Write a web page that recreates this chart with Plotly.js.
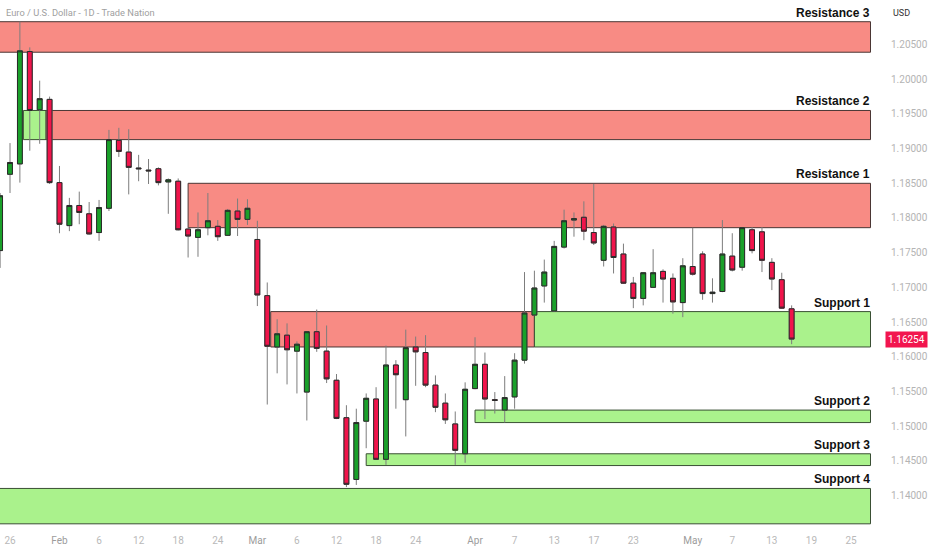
<!DOCTYPE html>
<html>
<head>
<meta charset="utf-8">
<script src="https://cdn.plot.ly/plotly-3.0.1.min.js"></script>
<style>html,body{margin:0;padding:0;background:#fff;}#chart{width:932px;height:550px;}</style>
</head>
<body>
<div id="chart"></div>
<script>
// ---- data (EUR/USD daily) ----
const dates = [
 '2026-01-23','2026-01-26','2026-01-27','2026-01-28','2026-01-29','2026-01-30',
 '2026-02-02','2026-02-03','2026-02-04','2026-02-05','2026-02-06',
 '2026-02-09','2026-02-10','2026-02-11','2026-02-12','2026-02-13',
 '2026-02-16','2026-02-17','2026-02-18','2026-02-19','2026-02-20',
 '2026-02-23','2026-02-24','2026-02-25','2026-02-26','2026-02-27',
 '2026-03-02','2026-03-03','2026-03-04','2026-03-05','2026-03-06',
 '2026-03-09','2026-03-10','2026-03-11','2026-03-12','2026-03-13',
 '2026-03-16','2026-03-17','2026-03-18','2026-03-19','2026-03-20',
 '2026-03-23','2026-03-24','2026-03-25','2026-03-26','2026-03-27',
 '2026-03-30','2026-03-31','2026-04-01','2026-04-02','2026-04-03',
 '2026-04-06','2026-04-07','2026-04-08','2026-04-09','2026-04-10',
 '2026-04-13','2026-04-14','2026-04-15','2026-04-16','2026-04-17',
 '2026-04-20','2026-04-21','2026-04-22','2026-04-23','2026-04-24',
 '2026-04-27','2026-04-28','2026-04-29','2026-04-30','2026-05-01',
 '2026-05-04','2026-05-05','2026-05-06','2026-05-07','2026-05-08',
 '2026-05-11','2026-05-12','2026-05-13','2026-05-14','2026-05-15'
];
const open = [
 1.1753,1.1863,1.1878,1.2040,1.1956,1.1971,
 1.1851,1.1789,1.1818,1.1806,1.1779,
 1.1814,1.1912,1.1895,1.1872,1.1869,
 1.1871,1.1852,1.1853,1.1784,1.1772,
 1.1786,1.1788,1.1775,1.1810,1.1798,
 1.1769,1.1688,1.1614,1.1631,1.1608,
 1.1549,1.1636,1.1608,1.1566,1.1512,
 1.1423,1.1507,1.1539,1.1452,1.1588,
 1.1538,1.1614,1.1606,1.1559,1.1533,
 1.1503,1.1460,1.1554,1.1589,1.1538,
 1.1523,1.1542,1.1595,1.1660,1.1702,
 1.1666,1.1758,1.1797,1.1801,1.1779,
 1.1739,1.1787,1.1748,1.1706,1.1684,
 1.1700,1.1723,1.1713,1.1678,1.1730,
 1.1748,1.1691,1.1694,1.1745,1.1729,
 1.1783,1.1780,1.1736,1.1711,1.1669
];
const high = [
 1.1836,1.1908,1.2083,1.2046,1.1998,1.1975,
 1.1875,1.1829,1.1838,1.1823,1.1826,
 1.1927,1.1930,1.1928,1.1891,1.1885,
 1.1873,1.1857,1.1857,1.1786,1.1808,
 1.1836,1.1797,1.1813,1.1828,1.1827,
 1.1796,1.1707,1.1654,1.1648,1.1622,
 1.1637,1.1668,1.1645,1.1575,1.1530,
 1.1525,1.1547,1.1556,1.1616,1.1595,
 1.1639,1.1629,1.1631,1.1573,1.1547,
 1.1521,1.1563,1.1628,1.1606,1.1549,
 1.1572,1.1605,1.1722,1.1724,1.1740,
 1.1767,1.1812,1.1808,1.1824,1.1849,
 1.1790,1.1792,1.1763,1.1715,1.1722,
 1.1755,1.1726,1.1720,1.1742,1.1786,
 1.1752,1.1713,1.1797,1.1778,1.1787,
 1.1787,1.1787,1.1742,1.1721,1.1674
];
const low = [
 1.1728,1.1836,1.1851,1.1897,1.1907,1.1849,
 1.1778,1.1781,1.1791,1.1776,1.1767,
 1.1810,1.1888,1.1834,1.1853,1.1849,
 1.1847,1.1806,1.1782,1.1743,1.1744,
 1.1775,1.1767,1.1774,1.1774,1.1790,
 1.1673,1.1531,1.1576,1.1560,1.1547,
 1.1508,1.1607,1.1562,1.1510,1.1412,
 1.1415,1.1468,1.1451,1.1444,1.1525,
 1.1485,1.1558,1.1556,1.1520,1.1503,
 1.1444,1.1447,1.1553,1.1510,1.1518,
 1.1505,1.1525,1.1590,1.1659,1.1678,
 1.1665,1.1756,1.1773,1.1768,1.1761,
 1.1730,1.1720,1.1705,1.1670,1.1674,
 1.1699,1.1678,1.1662,1.1657,1.1717,
 1.1682,1.1678,1.1693,1.1723,1.1724,
 1.1749,1.1722,1.1696,1.1669,1.1618
];
const close = [
 1.1832,1.1880,1.2041,1.1955,1.1972,1.1851,
 1.1791,1.1818,1.1808,1.1777,1.1815,
 1.1913,1.1896,1.1873,1.1871,1.1868,
 1.1851,1.1855,1.1783,1.1774,1.1783,
 1.1796,1.1773,1.1811,1.1798,1.1814,
 1.1689,1.1615,1.1633,1.1610,1.1618,
 1.1636,1.1612,1.1568,1.1511,1.1416,
 1.1505,1.1540,1.1452,1.1588,1.1574,
 1.1613,1.1607,1.1559,1.1527,1.1509,
 1.1465,1.1553,1.1589,1.1539,1.1537,
 1.1541,1.1595,1.1663,1.1699,1.1722,
 1.1759,1.1796,1.1799,1.1781,1.1764,
 1.1788,1.1743,1.1706,1.1684,1.1721,
 1.1721,1.1712,1.1679,1.1731,1.1719,
 1.1691,1.1693,1.1748,1.1725,1.1786,
 1.1753,1.1739,1.1712,1.1670,1.16254
];
const lastPrice = 1.16254;

// axis labels
const tickDates = ['2026-01-26','2026-02-02','2026-02-06','2026-02-12','2026-02-18','2026-02-24',
 '2026-03-02','2026-03-06','2026-03-12','2026-03-18','2026-03-24','2026-04-01','2026-04-07',
 '2026-04-13','2026-04-17','2026-04-23','2026-05-01','2026-05-07','2026-05-13','2026-05-19','2026-05-25'];
const tickLabels = ['26','Feb','6','12','18','24','Mar','6','12','18','24','Apr','7','13','17','23','May','7','13','19','25'];
const priceTicks = [1.14,1.145,1.15,1.155,1.16,1.165,1.17,1.175,1.18,1.185,1.19,1.195,1.20,1.205];

// zones
const zoneLabels = ['Resistance 3','Resistance 2','Resistance 1','Support 1','Support 2','Support 3','Support 4'];
const zoneTop    = [1.2083,1.1955,1.1850,1.1665,1.1523,1.1460,1.1410];
const zoneBottom = [1.2039,1.1913,1.1786,1.1614,1.1505,1.1443,1.1359];
// zone segments: which zone, colour kind, start / end date (null = chart edge)
const segZone = [0,1,1,2,3,3,4,5,6];
const segKind = ['res','sup','res','res','res','sup','sup','sup','sup'];
const segFrom = [null,'2026-01-27','2026-01-30','2026-02-19','2026-03-03','2026-04-09','2026-04-01','2026-03-17',null];
const segFromEdge = [0,1,-1,0,1,0,0,0,0];
const segTo = [null,'2026-01-30',null,null,'2026-04-09',null,null,null,null];
const segToEdge = [0,-1,0,0,0,0,0,0,0];

// ---- helpers ----
function tradingIndex(s){
  const base = Date.UTC(2026,0,26);
  const t = Date.parse(s+'T00:00:00Z');
  const days = Math.round((t-base)/864e5);
  const weeks = Math.floor(days/7);
  const rem = days - weeks*7;
  return weeks*5 + Math.min(rem,5);
}
const X = dates.map(tradingIndex);
const XMIN = -1.0107, XMAX = 87.02;
const HALF = 0.35;

const bodyHigh = open.map((o,i)=>Math.max(o,close[i]));
const bodyLow  = open.map((o,i)=>Math.min(o,close[i]));

const GREEN = '#1aa02a', RED = '#f0144b';

const wicks = {
  type:'candlestick', x:X, open:open, high:high, low:low, close:close,
  increasing:{line:{color:'#7d7d7d',width:1}, fillcolor:GREEN},
  decreasing:{line:{color:'#7d7d7d',width:1}, fillcolor:RED},
  whiskerwidth:0, hoverinfo:'skip', showlegend:false
};
const bodies = {
  type:'candlestick', x:X, open:open, high:bodyHigh, low:bodyLow, close:close,
  increasing:{line:{color:'#2a2a2a',width:1}, fillcolor:GREEN},
  decreasing:{line:{color:'#2a2a2a',width:1}, fillcolor:RED},
  whiskerwidth:0, hoverinfo:'skip', showlegend:false
};

const shapes = segZone.map((z,i)=>{
  const x0 = segFrom[i] ? tradingIndex(segFrom[i]) + segFromEdge[i]*HALF : XMIN-2;
  const x1 = segTo[i] ? tradingIndex(segTo[i]) + segToEdge[i]*HALF : XMAX-0.05;
  const res = segKind[i]==='res';
  return {type:'rect', xref:'x', yref:'y', layer:'below',
    x0:x0, x1:x1, y0:zoneBottom[z], y1:zoneTop[z],
    fillcolor: res ? '#f88b84' : '#aaf28c',
    line:{color: res ? '#4a3634' : '#3a4f34', width:1}};
});

const annotations = zoneLabels.map((t,i)=>({
  xref:'paper', x:1, xanchor:'right', xshift:1,
  yref:'y', y:zoneTop[i], yanchor:'bottom', yshift:0,
  text:t, showarrow:false,
  font:{family:'Liberation Sans, Arial, sans-serif', size:12, color:'#111', weight:'bold'}
}));
annotations.push({
  xref:'paper', x:0, xanchor:'left', xshift:4, yref:'paper', y:1, yanchor:'middle', yshift:-12,
  text:'Euro / U.S. Dollar - 1D - Trade Nation', showarrow:false,
  font:{family:'Roboto, sans-serif', size:9.3, color:'#a0a0a0'}
});
annotations.push({
  xref:'paper', x:1, xanchor:'left', xshift:20, yref:'paper', y:1, yanchor:'middle', yshift:-12.5,
  text:'USD', showarrow:false, font:{family:'Roboto, sans-serif', size:9, color:'#333'}
});
annotations.push({
  xref:'paper', x:1, xanchor:'left', xshift:14, yref:'y', y:lastPrice, yanchor:'middle',
  text:lastPrice.toFixed(5), showarrow:false, bgcolor:'#f2154e', borderpad:2,
  font:{family:'Roboto, sans-serif', size:10, color:'#ffffff'}
});

const monthNames = ['Feb','Mar','Apr','May'];
const layout = {
  width:932, height:550,
  margin:{l:0, r:61, t:0, b:25, pad:0},
  paper_bgcolor:'#ffffff', plot_bgcolor:'#ffffff',
  showlegend:false, dragmode:false, hovermode:false,
  xaxis:{
    type:'linear', range:[XMIN,XMAX], rangeslider:{visible:false},
    tickmode:'array', tickvals:tickDates.map(tradingIndex),
    ticktext:tickLabels.map(t=> monthNames.indexOf(t)>=0 ? '<span style="color:#9c9c9c">'+t+'</span>' : t),
    showgrid:false, zeroline:false, showline:false, ticks:'', ticklabelstandoff:8,
    tickfont:{family:'Roboto, sans-serif', size:10, color:'#b9b9b9'}
  },
  yaxis:{
    side:'right', range:[1.13573,1.21143],
    tickmode:'array', tickvals:priceTicks, ticktext:priceTicks.map(v=>v.toFixed(5)),
    showgrid:false, zeroline:false, showline:false, ticks:'', ticklabelstandoff:19,
    tickfont:{family:'Roboto, sans-serif', size:10, color:'#b4b4b4'}
  },
  shapes:shapes,
  annotations:annotations
};

Plotly.newPlot('chart',[wicks,bodies],layout,{staticPlot:true, displayModeBar:false});
</script>
</body>
</html>
